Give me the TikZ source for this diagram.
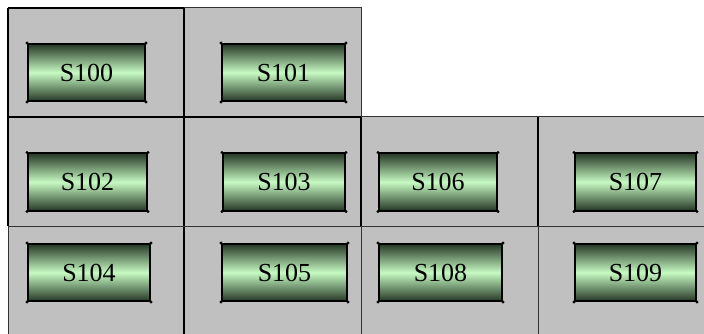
\documentclass[tikz,border=0pt]{standalone}
\usepackage{fontspec}
\setmainfont{Liberation Serif}
\definecolor{cellgray}{RGB}{192,192,192}
\definecolor{btndark}{RGB}{38,56,38}
\definecolor{btnlight}{RGB}{198,250,194}

\begin{document}
\begin{tikzpicture}[x=1pt,y=-1pt]
	\tikzset{btn/.style={draw=black,line width=2pt,top color=btndark,bottom color=btndark,middle color=btnlight,
			minimum height=57pt,inner sep=0pt,font=\fontsize{26}{30}\selectfont},
		thickline/.style={black,line width=2.4pt},
		midline/.style={black,line width=1.5pt},
		thinline/.style={black!80,line width=1pt}}
	
	\useasboundingbox (0,0) rectangle (704,334);
	
	% gray cells
	\fill[cellgray] (8,8) rectangle (361,117);
	\fill[cellgray] (8,117) rectangle (704,334);
	
	% grid lines
	\draw[thickline] (8,8) -- (184,8);
	\draw[thickline] (8,117) -- (361,117);
	\foreach \x in {8,184,361,538}
	{
		\draw[thickline] (\x,117) -- (\x,226); %middle row
	}
	\draw[midline] (8,8) -- (8,117);
	\draw[midline] (184,8) -- (184,117);
	\draw[midline] (184,226) -- (184,334);
	\draw[thinline] (184,8) -- (361,8) -- (361,117);
	\draw[thinline] (361,117) -- (704,117);
	\draw[thinline] (8,226) -- (704,226);
	\draw[thinline] (8,226) -- (8,334);
	\draw[thinline] (361,226) -- (361,334);
	\draw[thinline] (538,226) -- (538,334);
	
	% buttons
	\node[btn, minimum width=117pt] (s100) at (86.5,72.5) {S100};
	\node[btn, minimum width=123pt] (s101) at (283.5,72.5) {S101};
	\node[btn, minimum width=119pt] (s102) at (87.5,182) {S102};
	\node[btn, minimum width=122pt] (s103) at (284,182) {S103};
	\node[btn, minimum width=118pt] (s106) at (438,182) {S106};
	\node[btn, minimum width=121pt] (s107) at (635.5,182) {S107};
	\node[btn, minimum width=122pt] (s104) at (89,272.5) {S104};
	\node[btn, minimum width=125pt] (s105) at (284.5,272.5) {S105};
	\node[btn, minimum width=123pt] (s108) at (440.5,272.5) {S108};
	\node[btn, minimum width=121pt] (s109) at (635.5,272.5) {S109};
	
	% corner handles
	\foreach \n in {s100,s101,s102,s103,s104,s105,s106,s107,s108,s109}
	{
		\foreach \a in {north west,north east,south west,south east}
		{
			\fill (\n.\a) circle (1.6pt);
		}
	}
	
\end{tikzpicture}
\end{document}
